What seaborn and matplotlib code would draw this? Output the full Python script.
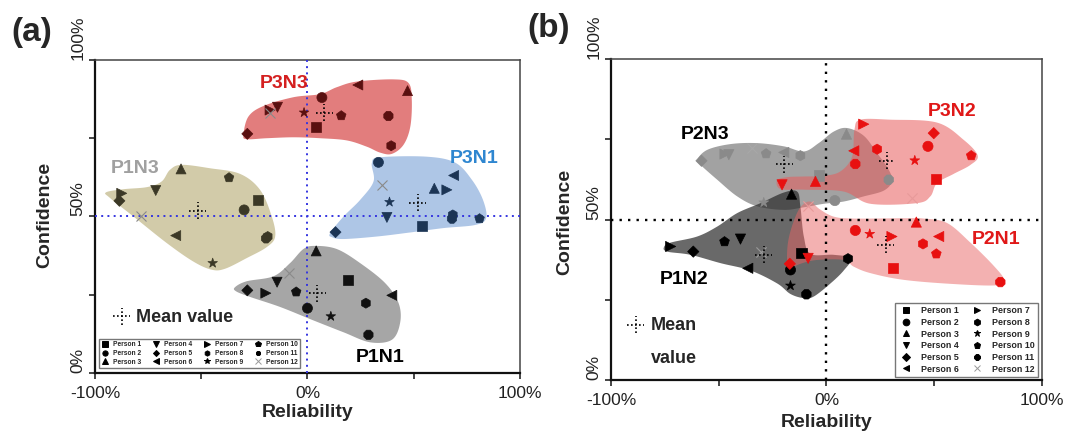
import matplotlib
matplotlib.use("Agg")
import matplotlib.pyplot as plt
from matplotlib.lines import Line2D
from matplotlib.markers import MarkerStyle
from matplotlib.transforms import Affine2D
import numpy as np
import pandas as pd
import seaborn as sns

sns.set_style("ticks")
plt.rcParams["font.family"] = ["Liberation Sans", "DejaVu Sans"]

# %%
# values, person 1..12 in order
persons = [f"Person {i}" for i in range(1, 13)]

# panel (a)
p3n3_rel = [3.9, 6.8, 47.1, -14.1, -28.3, 23.7, -17.6, 39.4, -1.6, 15.9, 38.1, -17.6]
p3n3_conf = [78.7, 88.0, 90.2, 84.9, 76.4, 92.0, 84.0, 72.6, 83.2, 82.2, 82.1, 83.0]
p3n1_rel = [53.8, 33.4, 59.7, 37.4, 13.2, 68.8, 65.6, 68.4, 38.6, 81.0, 68.0, 35.0]
p3n1_conf = [47.1, 67.3, 59.0, 49.7, 45.0, 63.1, 58.5, 50.5, 54.6, 49.3, 49.3, 60.1]
p1n3_rel = [-23.2, -29.8, -59.5, -71.4, -88.5, -62.0, -87.4, -18.7, -44.6, -36.9, -19.5, -78.3]
p1n3_conf = [55.3, 52.1, 65.2, 58.3, 55.0, 43.9, 57.4, 43.6, 35.1, 62.4, 43.0, 50.0]
p1n1_rel = [19.3, 0.0, 4.1, -14.3, -28.3, 39.7, -19.6, 27.5, 11.0, -5.3, 28.7, -8.8]
p1n1_conf = [29.6, 20.7, 39.0, 29.0, 26.4, 24.8, 25.5, 22.3, 18.1, 25.9, 12.2, 32.1]

# panel (b)
p2n3_rel = [-3.6, 3.9, 9.3, -45.3, -58.0, -19.8, -47.1, -12.1, -29.1, -28.0, 28.9, -34.5]
p2n3_conf = [63.7, 55.9, 76.6, 70.2, 68.3, 70.9, 70.4, 69.9, 55.3, 70.5, 62.4, 72.2]
p3n2_rel = [50.9, 47.1, -5.1, -20.6, 49.8, 12.7, 17.3, 23.5, 41.0, 67.2, 13.4, 39.7]
p3n2_conf = [62.6, 72.8, 61.9, 60.8, 76.9, 71.4, 79.7, 71.9, 68.4, 69.9, 67.3, 56.7]
p1n2_rel = [-11.6, -16.7, -16.2, -39.9, -61.8, -36.5, -72.3, 10.0, -16.7, -47.3, -9.3, -30.3]
p1n2_conf = [39.5, 34.3, 57.9, 43.9, 40.0, 34.8, 41.6, 37.8, 29.4, 43.1, 26.7, 40.0]
p2n1_rel = [30.8, 13.4, 41.7, -8.5, -17.0, 52.1, 30.4, 44.8, 20.1, 51.0, 80.7, -8.7]
p2n1_conf = [34.8, 46.6, 49.2, 37.9, 36.2, 44.7, 44.7, 42.4, 45.5, 39.3, 30.5, 54.1]

# hand-traced outlines of the shaded regions (reliability, confidence)
p3n3_hull_x = [-30.1, -27.8, -20.7, -6.6, 6.0, 13.8, 23.2, 40.5, 47.6, 49.1, 48.4, 45.2, 39.7, 34.2, 27.9, 18.5, 6.0, -6.6, -19.2, -28.6]
p3n3_hull_y = [76.1, 81.9, 85.3, 88.1, 89.1, 91.3, 93.1, 93.8, 92.6, 87.2, 78.7, 72.9, 70.0, 70.4, 72.3, 74.3, 75.0, 75.3, 75.0, 74.7]
p3n1_hull_x = [10.7, 17.0, 24.8, 31.1, 30.3, 34.2, 56.2, 69.5, 77.4, 82.6, 84.1, 79.0, 64.1, 48.4, 32.7, 17.0, 11.5]
p3n1_hull_y = [44.7, 50.0, 55.3, 61.2, 67.0, 68.9, 69.1, 67.2, 61.7, 55.3, 49.5, 47.3, 46.3, 44.9, 43.6, 42.8, 43.4]
p1n3_hull_x = [-94.8, -86.7, -75.4, -68.6, -64.7, -59.2, -45.8, -31.7, -22.3, -16.8, -15.2, -19.2, -28.6, -38.8, -45.1, -53.7, -66.2, -81.9, -92.9]
p1n3_hull_y = [57.7, 58.7, 59.4, 61.2, 64.9, 66.5, 65.4, 63.6, 58.5, 50.0, 43.6, 40.2, 36.7, 33.3, 33.0, 35.6, 41.5, 50.0, 55.9]
p1n1_hull_x = [-34.1, -28.6, -16.0, -8.2, -1.9, 3.6, 13.8, 24.8, 36.6, 42.9, 43.6, 39.7, 29.5, 17.0, 2.8, -12.9, -27.0, -33.6]
p1n1_hull_y = [27.4, 29.3, 30.9, 35.1, 39.6, 40.6, 39.6, 35.1, 28.7, 22.3, 16.0, 10.6, 9.8, 13.0, 16.8, 21.1, 24.3, 26.1]

p2n3_hull_x = [-60.0, -55.3, -44.5, -32.1, -19.8, -10.5, -3.6, 3.4, 9.6, 17.3, 23.5, 28.9, 30.4, 26.6, 17.3, 8.0, -1.2, -10.5, -19.8, -32.1, -41.4, -50.7, -58.4]
p2n3_hull_y = [68.6, 71.7, 73.5, 73.8, 72.8, 71.2, 73.8, 77.4, 78.5, 76.1, 70.7, 65.5, 61.9, 59.0, 57.2, 55.6, 54.9, 53.8, 53.0, 54.1, 57.2, 62.4, 67.0]
p3n2_hull_x = [-22.9, -18.2, -10.5, -1.2, 6.5, 11.9, 13.0, 15.8, 29.7, 51.3, 63.7, 70.2, 66.8, 59.0, 51.3, 48.2, 42.0, 20.4, 8.0, -10.5, -21.3]
p3n2_hull_y = [62.2, 63.2, 63.4, 63.6, 65.0, 69.6, 78.0, 81.1, 81.1, 80.2, 74.8, 69.9, 67.0, 64.2, 61.3, 57.2, 55.1, 54.9, 58.7, 59.3, 59.5]
p1n2_hull_x = [-75.4, -72.3, -60.0, -50.7, -41.4, -30.6, -19.8, -13.6, -12.1, -10.5, -7.4, 3.4, 11.4, 8.0, 1.9, -5.9, -10.5, -16.7, -22.9, -35.2, -49.1, -63.1, -73.9]
p1n2_hull_y = [41.4, 42.8, 44.7, 47.8, 52.0, 55.1, 58.4, 58.7, 54.1, 44.7, 39.3, 39.0, 37.9, 34.1, 30.1, 26.0, 25.5, 26.8, 30.1, 34.1, 36.4, 39.0, 40.0]
p2n1_hull_x = [-18.2, -17.9, -15.5, -12.1, -7.7, -3.1, 3.4, 12.7, 35.9, 45.1, 56.0, 66.8, 77.6, 82.5, 79.1, 59.0, 35.9, 20.4, 12.7, 8.0, -4.3, -12.1, -16.7]
p2n1_hull_y = [35.9, 42.6, 48.9, 53.8, 55.6, 53.2, 50.9, 50.3, 50.4, 50.3, 48.9, 42.8, 35.6, 31.2, 29.5, 29.9, 31.2, 33.3, 35.3, 37.4, 37.4, 36.2, 34.8]

# %%
diamond = MarkerStyle("D", transform=Affine2D().scale(0.78))
marker_map = {
    "Person 1": "s", "Person 2": "o", "Person 3": "^", "Person 4": "v",
    "Person 5": diamond, "Person 6": "<", "Person 7": ">", "Person 8": "h",
    "Person 9": "*", "Person 10": "p", "Person 11": "8", "Person 12": "x",
}
filled_markers = {k: v for k, v in marker_map.items() if k != "Person 12"}


def make_frame(groups):
    rows = []
    for name, rel, conf in groups:
        rows.append(pd.DataFrame({"group": name, "person": persons,
                                  "reliability": rel, "confidence": conf}))
    return pd.concat(rows, ignore_index=True)


df_a = make_frame([("P3N3", p3n3_rel, p3n3_conf), ("P3N1", p3n1_rel, p3n1_conf),
                   ("P1N3", p1n3_rel, p1n3_conf), ("P1N1", p1n1_rel, p1n1_conf)])
df_b = make_frame([("P2N3", p2n3_rel, p2n3_conf), ("P3N2", p3n2_rel, p3n2_conf),
                   ("P1N2", p1n2_rel, p1n2_conf), ("P2N1", p2n1_rel, p2n1_conf)])


def smooth_closed(x, y, n=24):
    # closed catmull-rom through the traced outline
    p = np.column_stack([x, y])
    m = len(p)
    t = np.linspace(0, 1, n, endpoint=False)[:, None]
    segs = []
    for i in range(m):
        p0, p1, p2, p3 = p[i - 1], p[i], p[(i + 1) % m], p[(i + 2) % m]
        segs.append(0.5 * (2 * p1 + (-p0 + p2) * t
                           + (2 * p0 - 5 * p1 + 4 * p2 - p3) * t ** 2
                           + (-p0 + 3 * p1 - 3 * p2 + p3) * t ** 3))
    s = np.vstack(segs)
    return s[:, 0], s[:, 1]


def mean_cross(ax, x, y, dx, dy, lw=1.2):
    ax.plot([x - dx, x + dx], [y, y], color="black", ls=(0, (1, 1.4)), lw=lw, zorder=5)
    ax.plot([x, x], [y - dy, y + dy], color="black", ls=(0, (1, 1.4)), lw=lw, zorder=5)


def style_axes(ax):
    ax.set_xlim(-100, 100)
    ax.set_ylim(0, 100)
    ax.set_xticks([-100, -50, 0, 50, 100], ["-100%", "", "0%", "", "100%"])
    ax.set_yticks([0, 25, 50, 75, 100], ["0%", "", "50%", "", "100%"])
    ax.tick_params(direction="out", length=4, width=1.2, labelsize=12.5,
                   labelcolor="#222222", pad=3)
    ax.tick_params(axis="x", pad=5.5)
    for lab in ax.get_yticklabels():
        lab.set_rotation(90)
        lab.set_va("bottom")
    for s in ["left", "bottom"]:
        ax.spines[s].set_linewidth(1.6)
        ax.spines[s].set_color("#111111")
    for s in ["top", "right"]:
        ax.spines[s].set_linewidth(1.1)
        ax.spines[s].set_color("#444444")
    ax.set_xlabel("Reliability", fontsize=14, fontweight="bold")
    ax.set_ylabel("Confidence", fontsize=14, fontweight="bold")


def draw_group(ax, df, name, mcolor, xcolor, s=52):
    sub = df[df["group"] == name]
    sns.scatterplot(data=sub[sub["person"] != "Person 12"], x="reliability", y="confidence",
                    style="person", markers=filled_markers, color=mcolor, edgecolor=mcolor,
                    s=s, linewidth=0.5, legend=False, ax=ax, zorder=4)
    sns.scatterplot(data=sub[sub["person"] == "Person 12"], x="reliability", y="confidence",
                    marker="x", color=xcolor, s=s, linewidth=0.8, legend=False, ax=ax, zorder=4)


def person_legend(ax, ncol, size, msize, anchor, loc, **kw):
    handles = []
    for p in persons:
        c = "#999999" if p == "Person 12" else "black"
        handles.append(Line2D([], [], marker=marker_map[p], color=c, ls="none",
                              markersize=msize, markeredgewidth=0.7, label=p))
    leg = ax.legend(handles=handles, ncol=ncol, loc=loc, bbox_to_anchor=anchor,
                    borderaxespad=0, prop={"size": size, "weight": "bold"},
                    fancybox=False, framealpha=1, edgecolor="#777777", **kw)
    leg.get_frame().set_linewidth(1.0)
    leg.set_zorder(6)
    return leg


# %%
fig = plt.figure(figsize=(10.67, 4.33), dpi=100)
ax_a = fig.add_axes([0.0890, 0.1386, 0.3983, 0.7229])
ax_b = fig.add_axes([0.5726, 0.1224, 0.4039, 0.7413])

# ---- panel (a)
hulls_a = [
    ("P3N3", p3n3_hull_x, p3n3_hull_y, "#e27d7d", "#5a1010"),
    ("P3N1", p3n1_hull_x, p3n1_hull_y, "#aec6e6", "#1c3555"),
    ("P1N3", p1n3_hull_x, p1n3_hull_y, "#d2cba9", "#3b3826"),
    ("P1N1", p1n1_hull_x, p1n1_hull_y, "#a6a6a6", "#111111"),
]
for name, hx, hy, fc, mc in hulls_a:
    sx, sy = smooth_closed(hx, hy)
    ax_a.fill(sx, sy, color=fc, lw=0, zorder=1)
    draw_group(ax_a, df_a, name, mc, "#8a8a8a")
    m = df_a[df_a["group"] == name][["reliability", "confidence"]].mean()
    mean_cross(ax_a, m["reliability"], m["confidence"], 4.0, 2.7)

ax_a.axvline(0, color="#3535e0", ls=(0, (1, 2.2)), lw=1.4, zorder=3)
ax_a.axhline(50, color="#3535e0", ls=(0, (1, 2.2)), lw=1.4, zorder=3)

ax_a.text(-10.8, 92.6, "P3N3", color="#d42020", fontsize=14, fontweight="bold", ha="center", va="center")
ax_a.text(78.6, 68.6, "P3N1", color="#2e86d0", fontsize=14, fontweight="bold", ha="center", va="center")
ax_a.text(-81.2, 65.2, "P1N3", color="#a0a0a0", fontsize=14, fontweight="bold", ha="center", va="center")
ax_a.text(34.2, 5.1, "P1N1", color="black", fontsize=14, fontweight="bold", ha="center", va="center")

mean_cross(ax_a, -87.4, 18.1, 4.0, 2.7)
ax_a.text(-80.5, 17.6, "Mean value", fontsize=13, fontweight="bold", va="center")
person_legend(ax_a, 4, 4.8, 3.8, (0.009, 0.016), "lower left",
              columnspacing=1.6, handletextpad=0.6, handlelength=1.2,
              labelspacing=0.25, borderpad=0.35)
style_axes(ax_a)
ax_a.xaxis.set_label_coords(0.5, -0.100)
ax_a.yaxis.set_label_coords(-0.099, 0.505)

# ---- panel (b)
hulls_b = [
    ("P2N3", p2n3_hull_x, p2n3_hull_y, "#707070", 0.65, "#8a8a8a", "#a8a8a8"),
    ("P1N2", p1n2_hull_x, p1n2_hull_y, "#2a2a2a", 0.7, "#000000", "#9a9a9a"),
    ("P3N2", p3n2_hull_x, p3n2_hull_y, "#e85c5c", 0.55, "#e81010", "#e89a9a"),
    ("P2N1", p2n1_hull_x, p2n1_hull_y, "#e86464", 0.5, "#e81010", "#e89a9a"),
]
for name, hx, hy, fc, al, mc, xc in hulls_b:
    sx, sy = smooth_closed(hx, hy)
    ax_b.fill(sx, sy, color=fc, alpha=al, lw=0, zorder=1)
for name, hx, hy, fc, al, mc, xc in hulls_b:
    draw_group(ax_b, df_b, name, mc, xc, s=54)
    m = df_b[df_b["group"] == name][["reliability", "confidence"]].mean()
    mean_cross(ax_b, m["reliability"], m["confidence"], 3.9, 2.6)

ax_b.axvline(0, color="black", ls=(0, (1, 2.6)), lw=1.7, zorder=3)
ax_b.axhline(50, color="black", ls=(0, (1, 2.6)), lw=1.7, zorder=3)

ax_b.text(58.3, 83.7, "P3N2", color="#e01818", fontsize=14, fontweight="bold", ha="center", va="center")
ax_b.text(-56.1, 76.4, "P2N3", color="black", fontsize=14, fontweight="bold", ha="center", va="center")
ax_b.text(78.8, 43.9, "P2N1", color="#e01818", fontsize=14, fontweight="bold", ha="center", va="center")
ax_b.text(-66.2, 31.4, "P1N2", color="black", fontsize=14, fontweight="bold", ha="center", va="center")

mean_cross(ax_b, -88.6, 17.2, 3.9, 2.6)
ax_b.text(-81.5, 17.0, "Mean", fontsize=13, fontweight="bold", va="center")
ax_b.text(-81.5, 6.8, "value", fontsize=13, fontweight="bold", va="center")
person_legend(ax_b, 2, 6.4, 4.8, (0.991, 0.009), "lower right",
              columnspacing=1.2, handletextpad=0.9, handlelength=1.6,
              labelspacing=0.3, borderpad=0.4)
style_axes(ax_b)
ax_b.xaxis.set_label_coords(0.5, -0.107)
ax_b.yaxis.set_label_coords(-0.088, 0.492)

fig.text(0.011, 0.924, "(a)", fontsize=24, fontweight="bold", va="center")
fig.text(0.494, 0.935, "(b)", fontsize=24, fontweight="bold", va="center")

fig.savefig("out.png", dpi=100)
